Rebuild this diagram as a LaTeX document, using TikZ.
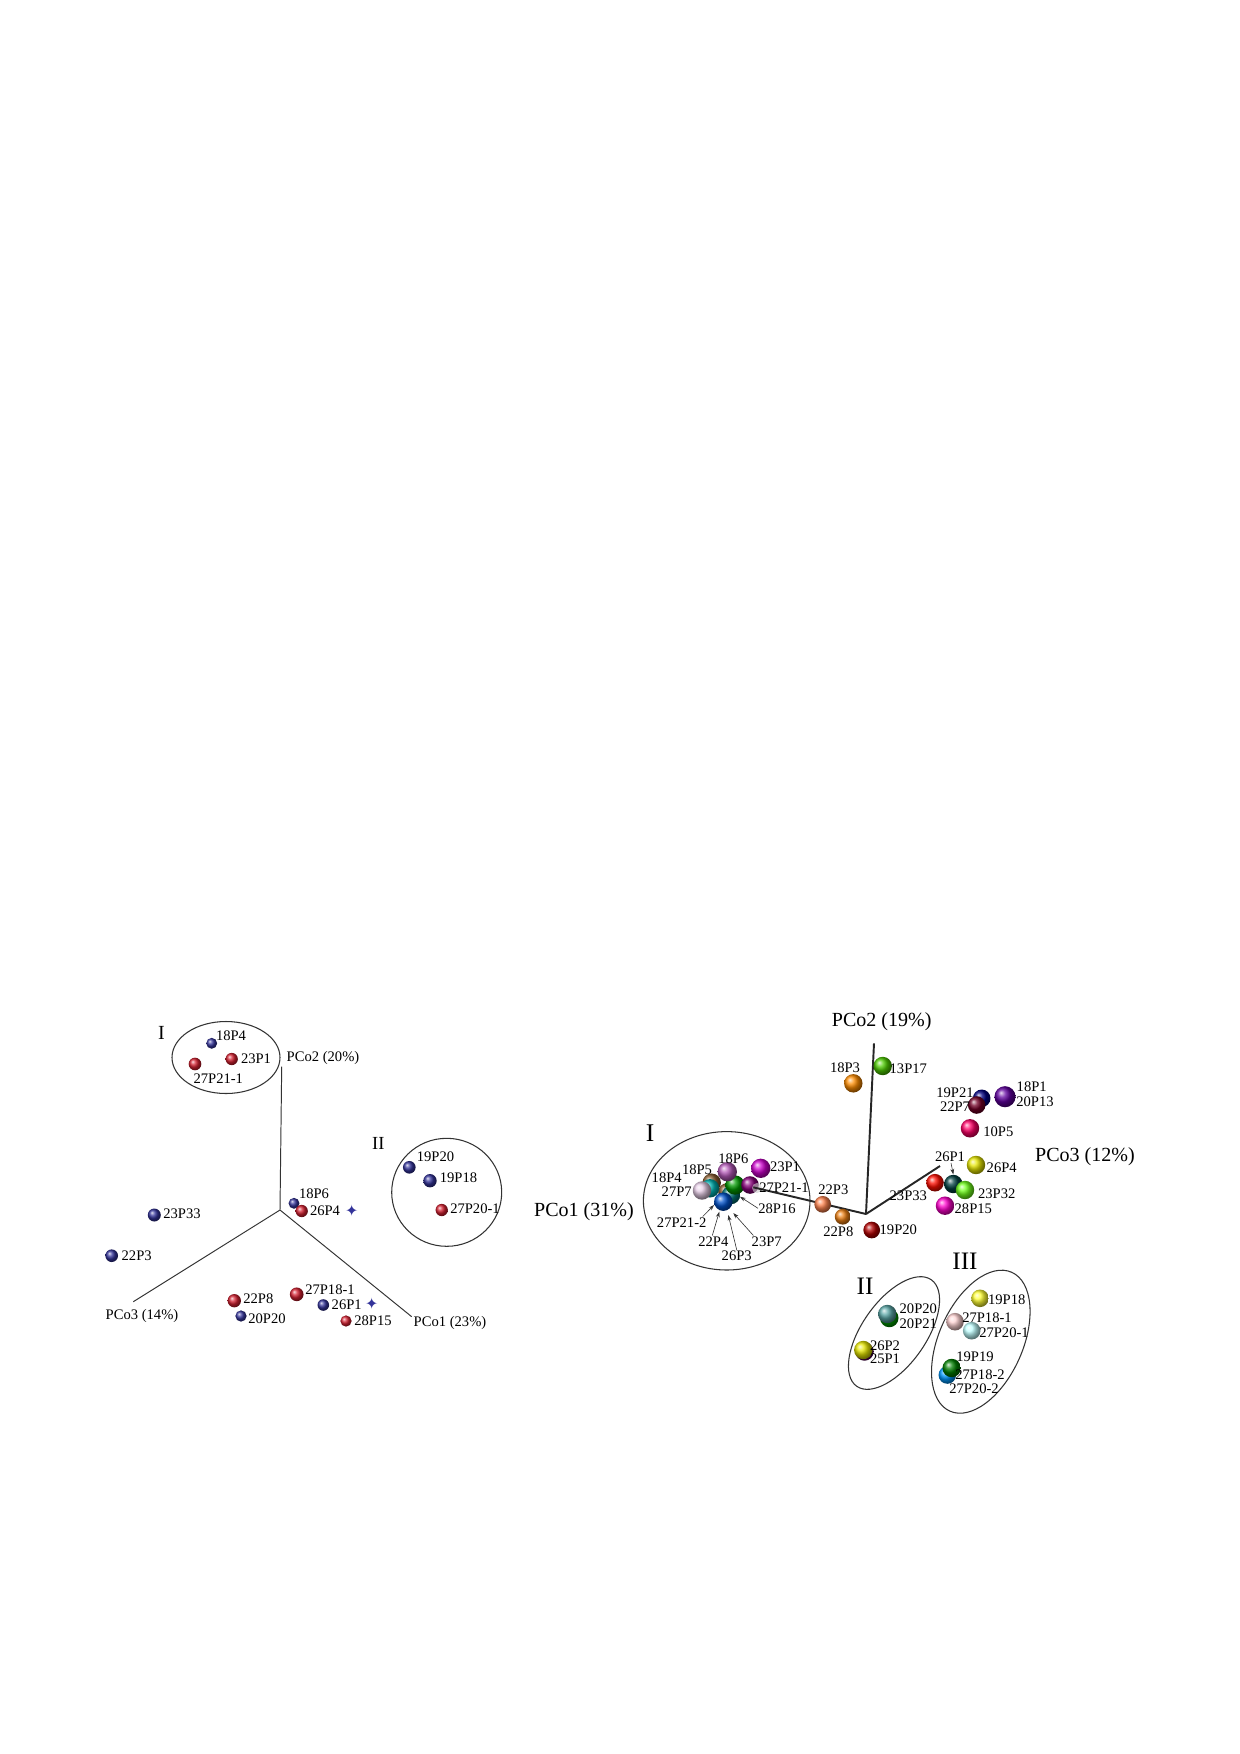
\documentclass[tikz,border=0pt]{standalone}
\usepackage{fontspec}
\setmainfont{Liberation Serif}
\newfontfamily\symfont{DejaVu Sans}
\usetikzlibrary{arrows.meta}
\definecolor{lblue}{HTML}{33339A}
\definecolor{lred}{HTML}{D42030}
\definecolor{orchid}{HTML}{B458B8}
\begin{document}
\begin{tikzpicture}[x=0.2mm,y=-0.2mm,
  lab/.style={font=\fontsize{8.3}{9}\selectfont,inner sep=0pt},
  axlab/.style={font=\fontsize{11.4}{13}\selectfont,inner sep=0pt},
  roman/.style={font=\fontsize{#1}{#1}\selectfont,inner sep=0pt},
  laxis/.style={line width=0.55pt,black!80},
  raxis/.style={line width=1.1pt,black!85},
  ring/.style={line width=0.6pt,black!80},
  sph/.style={circle,inner sep=0pt,minimum size=#1,shading=ball},
  bdot/.style={sph=#1,ball color=lblue},
  rdot/.style={sph=#1,ball color=lred},
  pt/.style={-{Stealth[length=3.2pt,width=2.2pt]},line width=0.35pt,black!80},
  starmark/.style={font=\symfont\fontsize{9}{9}\selectfont,text=lblue,inner sep=0pt}
]
\useasboundingbox (0,0) rectangle (1240,1754);

% ================= LEFT PLOT =================
\coordinate (Lo) at (280,1210);
\coordinate (L2) at (281.7,1066.7);
\coordinate (L3) at (133.3,1301.7);
\coordinate (L1) at (411.7,1316.7);
\draw[laxis] (Lo) -- (L2);
\draw[laxis] (Lo) -- (L3);
\draw[laxis] (Lo) -- (L1);
\node[lab] (lpc2) at (323,1058) {PCo2 (20\%)};
\node[lab] (lpc3) at (142,1316) {PCo3 (14\%)};
\node[lab] (lpc1) at (450,1323) {PCo1 (23\%)};

\draw[ring] (226,1057.5) ellipse[x radius=54,y radius=36];
\node[roman=11.4] (lI) at (161.5,1033) {I};
\draw[ring] (446.7,1192.3) ellipse[x radius=55,y radius=54];
\node[roman=10.5] (lII) at (378.3,1143) {II};

\node[bdot=6.2pt] (l18P4) at (211.7,1043.3) {};
\node[lab] (l18P4t) at (231,1036) {18P4};
\node[rdot=7pt] (l23P1) at (231.7,1059) {};
\node[lab] (l23P1t) at (256,1058.3) {23P1};
\node[rdot=7.2pt] (l27P21) at (195,1064) {};
\node[lab] (l27P21t) at (218.3,1078.3) {27P21-1};

\node[bdot=7.2pt] (l19P20) at (409.3,1167.3) {};
\node[lab] (l19P20t) at (435.5,1156.7) {19P20};
\node[bdot=7.6pt] (l19P18) at (430,1180.7) {};
\node[lab] (l19P18t) at (458.5,1177.3) {19P18};
\node[rdot=7pt] (l27P20) at (441.7,1210) {};
\node[lab] (l27P20t) at (475,1208.3) {27P20-1};

\node[bdot=6.2pt] (l18P6) at (294,1203.3) {};
\node[lab] (l18P6t) at (314,1193.3) {18P6};
\node[rdot=7pt] (l26P4) at (301.7,1211) {};
\node[lab] (l26P4t) at (325,1211) {26P4};
\node[starmark] (lst1) at (351.7,1211) {✦};

\node[bdot=7.4pt] (l23P33) at (154.3,1215) {};
\node[lab] (l23P33t) at (182,1213.3) {23P33};
\node[bdot=7.2pt] (l22P3) at (111.7,1255.7) {};
\node[lab] (l22P3t) at (136.7,1255.7) {22P3};

\node[rdot=7.6pt] (l22P8) at (234.3,1300.7) {};
\node[lab] (l22P8t) at (258.3,1298.3) {22P8};
\node[bdot=6.4pt] (l20P20) at (241,1316) {};
\node[lab] (l20P20t) at (267,1318.3) {20P20};
\node[rdot=7.8pt] (l27P18) at (296.7,1294.3) {};
\node[lab] (l27P18t) at (330,1289.3) {27P18-1};
\node[bdot=6.6pt] (l26P1) at (323.3,1305) {};
\node[lab] (l26P1t) at (346.7,1305) {26P1};
\node[starmark] (lst2) at (371.7,1304) {✦};
\node[rdot=6.4pt] (l28P15) at (346,1321) {};
\node[lab] (l28P15t) at (373,1321) {28P15};

% ================= RIGHT PLOT =================
\coordinate (Ro) at (866,1214);
\coordinate (R2) at (874,1043.3);
\coordinate (R3) at (940,1166);
\coordinate (R1) at (753.3,1187.3);
\node[axlab] (rpc2) at (881.7,1022) {PCo2 (19\%)};
\node[axlab] (rpc3) at (1085,1157) {PCo3 (12\%)};
\node[axlab] (rpc1) at (584,1211.7) {PCo1 (31\%)};

% cluster I (behind axis)
\draw[ring] (726.7,1200.8) ellipse[x radius=83.3,y radius=69.2];
\node[roman=14.5] (rI) at (650,1133) {I};
\node[sph=10.5pt,ball color=brown!70!black] (c1) at (711.7,1182.7) {};
\node[sph=10pt,ball color=brown!70!black] (c1b) at (727,1192) {};
\node[sph=10.5pt,ball color=teal!60!cyan] (c2) at (710,1188.3) {};
\node[sph=10.5pt,ball color=violet!20] (c3) at (702,1190.5) {};
\node[sph=10.5pt,ball color=teal!90!black] (c4) at (731,1195) {};
\node[sph=11pt,ball color=green!60!black] (c5) at (735,1185) {};
\node[sph=10.5pt,ball color=blue!60!cyan!80!black] (c6) at (723.3,1201.7) {};
\node[sph=11pt,ball color=orchid] (c18P6) at (727.3,1171.7) {} ;
\node[sph=10pt,ball color=purple!70!blue] (c7) at (750,1185) {};
\fill[gray!40,opacity=0.6] (757,1188) circle[radius=5];
\node[sph=11pt,ball color=magenta!80!black] (c23P1) at (760.7,1168.3) {};
\draw[raxis] (Ro) -- (R1);
\draw[raxis] (Ro) -- (R2);
\draw[raxis] (Ro) -- (R3);

\node[lab] (t18P4) at (666.7,1177.3) {18P4};
\node[lab] (t18P5) at (697,1170) {18P5};
\node[lab] (t18P6) at (733.3,1158.3) {18P6};
\node[lab] (t23P1) at (785,1166.7) {23P1};
\node[lab] (t27P7) at (676.7,1191.7) {27P7};
\node[lab] (t27P21a) at (784,1187.3) {27P21-1};
\node[lab] (t28P16) at (777,1208.3) {28P16};
\node[lab] (t27P21b) at (681.7,1222.7) {27P21-2};
\node[lab] (t22P4) at (713.3,1241.7) {22P4};
\node[lab] (t23P7) at (766.7,1241.7) {23P7};
\node[lab] (t26P3) at (736.7,1256) {26P3};
\coordinate (a28) at (740,1196.7);
\coordinate (a27) at (714,1205);
\coordinate (a22) at (719.3,1211.7);
\coordinate (a26) at (728.3,1215);
\coordinate (a23) at (733.3,1213);
\draw[pt] (t28P16.west) -- (a28);
\draw[pt] (t27P21b.north east) ++(-4,-1) -- (a27);
\draw[pt] (t22P4.north) ++(-1,-1) -- (a22);
\draw[pt] (t26P3.north) ++(0,-1) -- (a26);
\draw[pt] (t23P7.north west) ++(2,-1) -- (a23);

% other right spheres
\node[sph=10.5pt,ball color=orange!90!yellow] (r18P3) at (853.3,1083.3) {};
\node[lab] (r18P3t) at (845,1067.3) {18P3};
\node[sph=10.5pt,ball color=green!50!lime!80!black] (r13P17) at (882.7,1066) {};
\node[lab] (r13P17t) at (908.3,1068.3) {13P17};
\node[sph=10pt,ball color=blue!50!black] (r19P21) at (981.7,1098.3) {};
\node[sph=10pt,ball color=purple!60!black] (r22P7) at (976.7,1105) {};
\node[lab] (r19P21t) at (955,1092.7) {19P21};
\node[lab] (r22P7t) at (955,1106.7) {22P7};
\node[sph=12pt,ball color=blue!50!purple] (r18P1) at (1005,1096.7) {};
\node[lab] (r18P1t) at (1031.7,1086.7) {18P1};
\node[lab] (r20P13t) at (1035,1101.7) {20P13};
\node[sph=10.5pt,ball color=red!60!magenta] (r10P5) at (970,1128.3) {};
\node[lab] (r10P5t) at (998.3,1131.7) {10P5};
\node[sph=10.5pt,ball color=yellow!90!black] (r26P4) at (976,1165) {};
\node[lab] (r26P4t) at (1001.7,1167.7) {26P4};
\node[sph=10pt,ball color=red!90!orange] (r23P33) at (935,1182.7) {};
\node[sph=10.5pt,ball color=teal!50!black] (r26P1) at (953.3,1184) {};
\node[sph=10.5pt,ball color=green!50!lime!90!white] (r23P32) at (965,1190) {};
\node[lab] (r26P1t) at (950,1156.7) {26P1};
\draw[pt] (r26P1t.south) ++(1,1) -- (r26P1.north);
\node[lab] (r23P32t) at (996.7,1194) {23P32};
\node[lab] (r23P33t) at (908.3,1196) {23P33};
\node[sph=10.5pt,ball color=magenta!80!red] (r28P15) at (945,1205.7) {};
\node[lab] (r28P15t) at (973.3,1208.3) {28P15};
\node[sph=9.5pt,ball color=red!40!orange!70!white] (r22P3) at (822.7,1204.3) {};
\node[lab] (r22P3t) at (833.3,1190) {22P3};
\node[sph=9pt,ball color=orange!70!brown] (r22P8) at (842.7,1216.7) {};
\node[lab] (r22P8t) at (838.3,1231.7) {22P8};
\node[sph=9.5pt,ball color=red!70!black] (r19P20) at (871.7,1230) {};
\node[lab] (r19P20t) at (898.3,1230) {19P20};

% cluster II
\draw[ring] (894,1333) ellipse[x radius=65,y radius=32,rotate=55];
\node[roman=14.3] (rII) at (865,1286.7) {II};
\node[sph=10.5pt,ball color=green!60!black] (r20P21) at (889.3,1318) {};
\node[sph=10.5pt,ball color=cyan!30!gray] (r20P20) at (887.3,1314) {};
\node[lab] (r20P20t) at (918.3,1308.3) {20P20};
\node[lab] (r20P21t) at (918.3,1323.3) {20P21};
\node[sph=10.5pt,ball color=violet!70!black] (r25P1) at (864.5,1351.5) {};
\node[sph=10.5pt,ball color=yellow!80!olive] (r26P2) at (863.3,1350) {};
\node[lab] (r26P2t) at (885,1346) {26P2};
\node[lab] (r25P1t) at (885,1358.3) {25P1};

% cluster III
\draw[ring] (980.8,1341.7) ellipse[x radius=76,y radius=42,rotate=66];
\node[roman=14.3] (rIII) at (965,1261.7) {III};
\node[sph=10pt,ball color=yellow!80!white] (r19P18) at (980,1298.3) {};
\node[lab] (r19P18t) at (1006.7,1300) {19P18};
\node[sph=10pt,ball color=pink!70!white] (r27P18a) at (955,1321.7) {};
\node[lab] (r27P18at) at (987,1317.3) {27P18-1};
\node[sph=10pt,ball color=cyan!25!white] (r27P20a) at (971.7,1330.7) {};
\node[lab] (r27P20at) at (1004,1332.7) {27P20-1};
\node[sph=10pt,ball color=cyan!60!blue] (r27P20b) at (947.3,1375) {};
\node[sph=10.5pt,ball color=green!50!black] (r19P19) at (951.7,1368) {};
\node[lab] (r19P19t) at (975,1356.7) {19P19};
\node[lab] (r27P18bt) at (980,1375) {27P18-2};
\node[lab] (r27P20bt) at (974,1388.3) {27P20-2};
\end{tikzpicture}
\end{document}
